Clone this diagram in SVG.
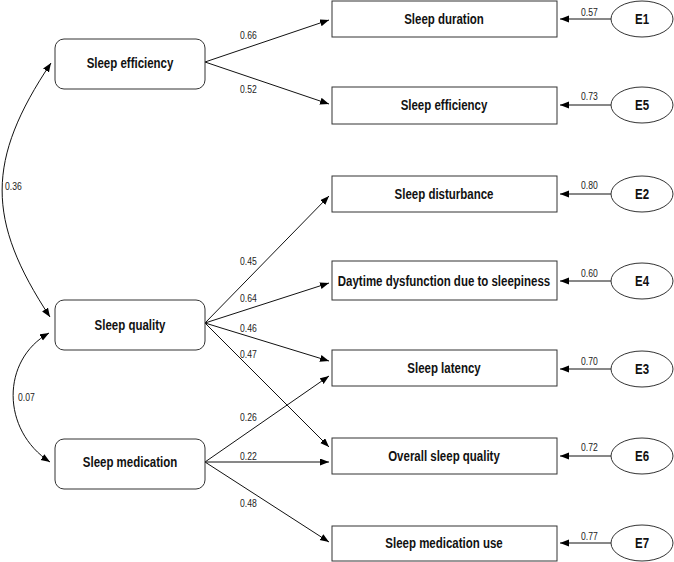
<svg xmlns="http://www.w3.org/2000/svg" width="674" height="562" viewBox="0 0 674 562">
<style>
.box{fill:#fff;stroke:#333;stroke-width:1}
.lat{fill:#fff;stroke:#333;stroke-width:1}
.ell{fill:#fff;stroke:#333;stroke-width:1}
.t{font-family:"Liberation Sans",Arial,sans-serif;font-weight:bold;font-size:14px;fill:#111;text-anchor:middle}
.n{font-family:"Liberation Sans",Arial,sans-serif;font-size:10.5px;fill:#222}
.c{fill:none;stroke:#111;stroke-width:1}
.a{marker-end:url(#ah)}
.d{marker-start:url(#ah);marker-end:url(#ah)}
</style>
<defs>
<marker id="ah" markerUnits="userSpaceOnUse" markerWidth="10" markerHeight="8" refX="9" refY="3.5" orient="auto-start-reverse">
<path d="M0,0 L9,3.5 L0,7 z" fill="#000"/>
</marker>
</defs>
<g id="connectors">
<path class="c a" d="M205,62 L329,20"/>
<path class="c a" d="M205,62 L329,104"/>
<path class="c a" d="M205,323 L329,196"/>
<path class="c a" d="M205,323 L329,283"/>
<path class="c a" d="M205,323 L329,361"/>
<path class="c a" d="M205,323 L329,447"/>
<path class="c a" d="M205,462 L329,376"/>
<path class="c a" d="M205,462 L329,462"/>
<path class="c a" d="M205,462 L329,542"/>
<path class="c d" d="M51,63 C-14,160 -14,220 50,317"/>
<path class="c d" d="M49,333 C1,360 1,430 50,462"/>
<path class="c a" d="M611,19 L560,19"/>
<path class="c a" d="M611,105 L560,105"/>
<path class="c a" d="M611,194 L560,194"/>
<path class="c a" d="M611,281 L560,281"/>
<path class="c a" d="M611,369 L560,369"/>
<path class="c a" d="M611,456 L560,456"/>
<path class="c a" d="M611,543 L560,543"/>
<text class="n" transform="translate(240,39) scale(0.82,1)">0.66</text>
<text class="n" transform="translate(240,93) scale(0.82,1)">0.52</text>
<text class="n" transform="translate(240,265) scale(0.82,1)">0.45</text>
<text class="n" transform="translate(240,302) scale(0.82,1)">0.64</text>
<text class="n" transform="translate(240,332) scale(0.82,1)">0.46</text>
<text class="n" transform="translate(240,358) scale(0.82,1)">0.47</text>
<text class="n" transform="translate(240,421) scale(0.82,1)">0.26</text>
<text class="n" transform="translate(240,460) scale(0.82,1)">0.22</text>
<text class="n" transform="translate(240,507) scale(0.82,1)">0.48</text>
<text class="n" transform="translate(5,190) scale(0.82,1)">0.36</text>
<text class="n" transform="translate(18,401) scale(0.82,1)">0.07</text>
<text class="n" transform="translate(581,16) scale(0.82,1)">0.57</text>
<text class="n" transform="translate(581,100) scale(0.82,1)">0.73</text>
<text class="n" transform="translate(581,189) scale(0.82,1)">0.80</text>
<text class="n" transform="translate(581,277) scale(0.82,1)">0.60</text>
<text class="n" transform="translate(581,365) scale(0.82,1)">0.70</text>
<text class="n" transform="translate(581,451) scale(0.82,1)">0.72</text>
<text class="n" transform="translate(581,540) scale(0.82,1)">0.77</text>
</g>
<g id="lat_sleep_efficiency"><rect class="lat" x="55" y="39" width="150" height="50" rx="9"/><text class="t" transform="translate(130,68) scale(0.82,1)">Sleep efficiency</text></g>
<g id="lat_sleep_quality"><rect class="lat" x="55" y="300" width="150" height="50" rx="9"/><text class="t" transform="translate(130,330) scale(0.82,1)">Sleep quality</text></g>
<g id="lat_sleep_medication"><rect class="lat" x="55" y="439" width="150" height="50" rx="9"/><text class="t" transform="translate(130,467) scale(0.82,1)">Sleep medication</text></g>
<g id="obs_sleep_duration"><rect class="box" x="332" y="1" width="225" height="36"/><text class="t" transform="translate(444,24) scale(0.82,1)">Sleep duration</text></g>
<g id="obs_sleep_efficiency"><rect class="box" x="332" y="87" width="225" height="37"/><text class="t" transform="translate(444,110) scale(0.82,1)">Sleep efficiency</text></g>
<g id="obs_sleep_disturbance"><rect class="box" x="332" y="176" width="225" height="36"/><text class="t" transform="translate(444,199) scale(0.82,1)">Sleep disturbance</text></g>
<g id="obs_daytime"><rect class="box" x="332" y="261" width="225" height="39"/><text class="t" transform="translate(444,286) scale(0.82,1)">Daytime dysfunction due to sleepiness</text></g>
<g id="obs_sleep_latency"><rect class="box" x="332" y="350" width="225" height="36"/><text class="t" transform="translate(444,373) scale(0.82,1)">Sleep latency</text></g>
<g id="obs_overall"><rect class="box" x="332" y="438" width="225" height="36"/><text class="t" transform="translate(444,461) scale(0.82,1)">Overall sleep quality</text></g>
<g id="obs_med_use"><rect class="box" x="332" y="526" width="225" height="35"/><text class="t" transform="translate(444,548) scale(0.82,1)">Sleep medication use</text></g>
<g id="E1"><ellipse class="ell" cx="642" cy="19" rx="31" ry="18"/><text class="t" transform="translate(642,24) scale(0.82,1)">E1</text></g>
<g id="E5"><ellipse class="ell" cx="642" cy="105" rx="31" ry="18"/><text class="t" transform="translate(642,110) scale(0.82,1)">E5</text></g>
<g id="E2"><ellipse class="ell" cx="642" cy="194" rx="31" ry="18"/><text class="t" transform="translate(642,199) scale(0.82,1)">E2</text></g>
<g id="E4"><ellipse class="ell" cx="642" cy="281" rx="31" ry="18"/><text class="t" transform="translate(642,286) scale(0.82,1)">E4</text></g>
<g id="E3"><ellipse class="ell" cx="642" cy="369" rx="31" ry="18"/><text class="t" transform="translate(642,374) scale(0.82,1)">E3</text></g>
<g id="E6"><ellipse class="ell" cx="642" cy="456" rx="31" ry="18"/><text class="t" transform="translate(642,461) scale(0.82,1)">E6</text></g>
<g id="E7"><ellipse class="ell" cx="642" cy="543" rx="31" ry="18"/><text class="t" transform="translate(642,548) scale(0.82,1)">E7</text></g>
</svg>
